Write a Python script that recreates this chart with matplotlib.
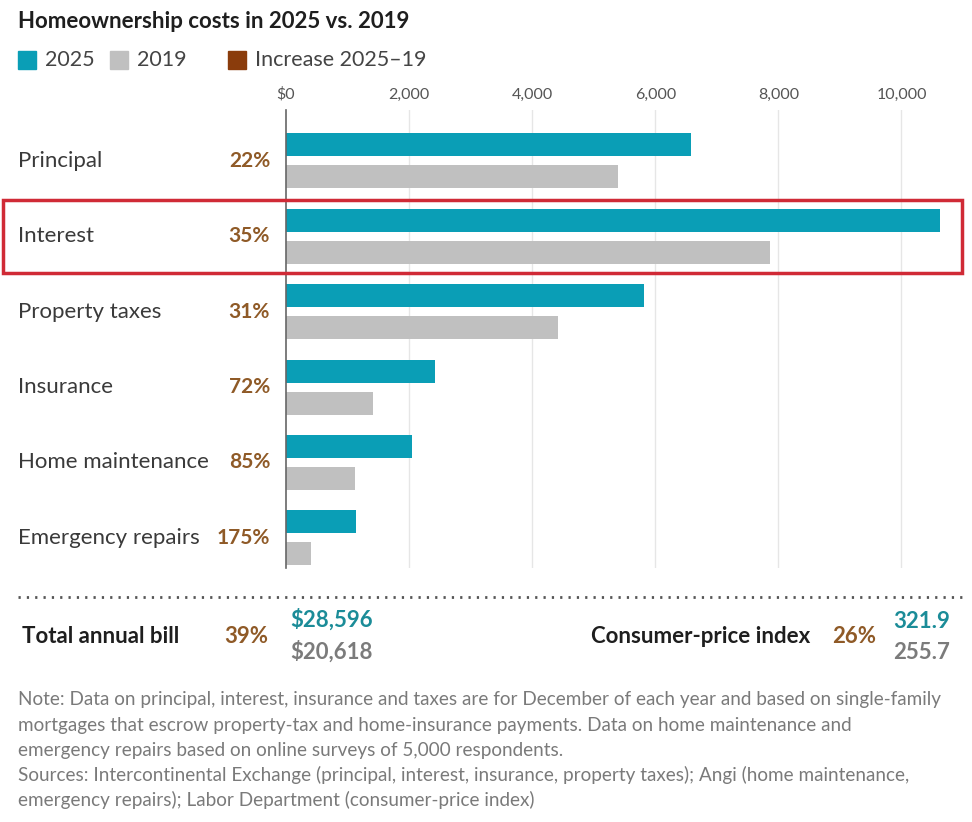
import numpy as np
import matplotlib.pyplot as plt
import matplotlib.patches as patches
from matplotlib.transforms import blended_transform_factory

# data
categories = ['Principal', 'Interest', 'Property taxes', 'Insurance',
              'Home maintenance', 'Emergency repairs']
cost_2025 = [6575, 10630, 5810, 2420, 2045, 1135]
cost_2019 = [5390, 7870, 4415, 1410, 1120, 410]
increase = ['22%', '35%', '31%', '72%', '85%', '175%']
xticks = [0, 2000, 4000, 6000, 8000, 10000]
xtick_labels = ['$0', '2,000', '4,000', '6,000', '8,000', '10,000']

total_label = 'Total annual bill'
total_increase = '39%'
total_2025 = '$28,596'
total_2019 = '$20,618'
cpi_label = 'Consumer-price index'
cpi_increase = '26%'
cpi_2025 = '321.9'
cpi_2019 = '255.7'

note_lines = [
    'Note: Data on principal, interest, insurance and taxes are for December of each year and based on single-family',
    'mortgages that escrow property-tax and home-insurance payments. Data on home maintenance and',
    'emergency repairs based on online surveys of 5,000 respondents.',
    'Sources: Intercontinental Exchange (principal, interest, insurance, property taxes); Angi (home maintenance,',
    'emergency repairs); Labor Department (consumer-price index)',
]

TEAL = '#0a9eb6'
GREY = '#c0c0c0'
BROWN = '#8a3c0c'
PCT = '#8f5a27'
TEAL_TXT = '#1b8c98'
GREY_TXT = '#7b7b7b'
DARK = '#1e1e1e'
LABEL = '#3a3a3a'

plt.rcParams['font.family'] = ['Lato', 'DejaVu Sans']

W, H = 972, 822
fig = plt.figure(figsize=(W / 100, H / 100), dpi=100)


def fx(px):
    return px / W


def fy(py):
    return 1 - py / H


# main axes: x from 286 px, 61.6 px per 1000
ax = fig.add_axes([fx(286), fy(568), 677 / W, 458 / H])
y = np.arange(len(categories))
off = 0.212
ax.barh(y - off, cost_2025, height=0.305, color=TEAL, zorder=3)
ax.barh(y + off, cost_2019, height=0.305, color=GREY, zorder=3)
ax.set_xlim(0, 11000)
ax.set_ylim(5.4, -0.676)
ax.set_yticks([])
ax.xaxis.tick_top()
ax.set_xticks(xticks)
ax.set_xticklabels(xtick_labels, fontsize=11.5, color='#555555')
ax.tick_params(axis='x', length=0, pad=6)
for s in ['top', 'right', 'bottom']:
    ax.spines[s].set_visible(False)
ax.spines['left'].set_color('#666666')
ax.spines['left'].set_linewidth(1.2)
ax.spines['left'].set_zorder(4)
for t in xticks[1:]:
    ax.axvline(t, color='#e6e6e6', lw=1, zorder=1)

tr = blended_transform_factory(ax.transAxes, ax.transData)
for i, (c, p) in enumerate(zip(categories, increase)):
    ax.text((18 - 286) / 677, i, c, transform=tr, ha='left', va='center',
            fontsize=16, color=LABEL)
    ax.text((270 - 286) / 677, i, p, transform=tr, ha='right', va='center',
            fontsize=15, color=PCT, fontweight='bold')

# highlight box around Interest
fig.patches.append(patches.Rectangle((fx(3), fy(273)), fx(959), 73 / H,
                                     transform=fig.transFigure, fill=False,
                                     edgecolor='#d02a36', lw=2.5))

# title and legend
fig.text(fx(18), fy(22), 'Homeownership costs in 2025 vs. 2019', fontsize=16,
         fontweight='bold', color=DARK, va='center')
legend_items = [(18, TEAL, '2025'), (110, GREY, '2019'), (228, BROWN, 'Increase 2025–19')]
for x0, col, lab in legend_items:
    fig.patches.append(patches.Rectangle((fx(x0), fy(69)), fx(18), 18 / H,
                                         transform=fig.transFigure, color=col))
    fig.text(fx(x0 + 27), fy(60), lab, fontsize=15.5, color='#444444', va='center')

# dotted separator
fig.add_artist(plt.Line2D([fx(18), fx(962)], [fy(597), fy(597)],
                          transform=fig.transFigure, color='#555555',
                          lw=2, linestyle=(0, (0.8, 2.2))))

# totals
fig.text(fx(22), fy(636), total_label, fontsize=16, fontweight='bold', color=DARK, va='center')
fig.text(fx(268), fy(636), total_increase, fontsize=16, fontweight='bold', color=PCT,
         va='center', ha='right')
fig.text(fx(290), fy(620), total_2025, fontsize=16, fontweight='bold', color=TEAL_TXT, va='center')
fig.text(fx(290), fy(652), total_2019, fontsize=16, fontweight='bold', color=GREY_TXT, va='center')
fig.text(fx(810), fy(636), cpi_label, fontsize=16, fontweight='bold', color=DARK,
         va='center', ha='right')
fig.text(fx(876), fy(636), cpi_increase, fontsize=16, fontweight='bold', color=PCT,
         va='center', ha='right')
fig.text(fx(950), fy(622), cpi_2025, fontsize=16, fontweight='bold', color=TEAL_TXT,
         va='center', ha='right')
fig.text(fx(950), fy(652), cpi_2019, fontsize=16, fontweight='bold', color=GREY_TXT,
         va='center', ha='right')

# note block
for k, line in enumerate(note_lines):
    fig.text(fx(18), fy(700 + 25 * k), line, fontsize=13.6, color='#7a7a7a', va='center')

fig.savefig('out.png', dpi=100)
